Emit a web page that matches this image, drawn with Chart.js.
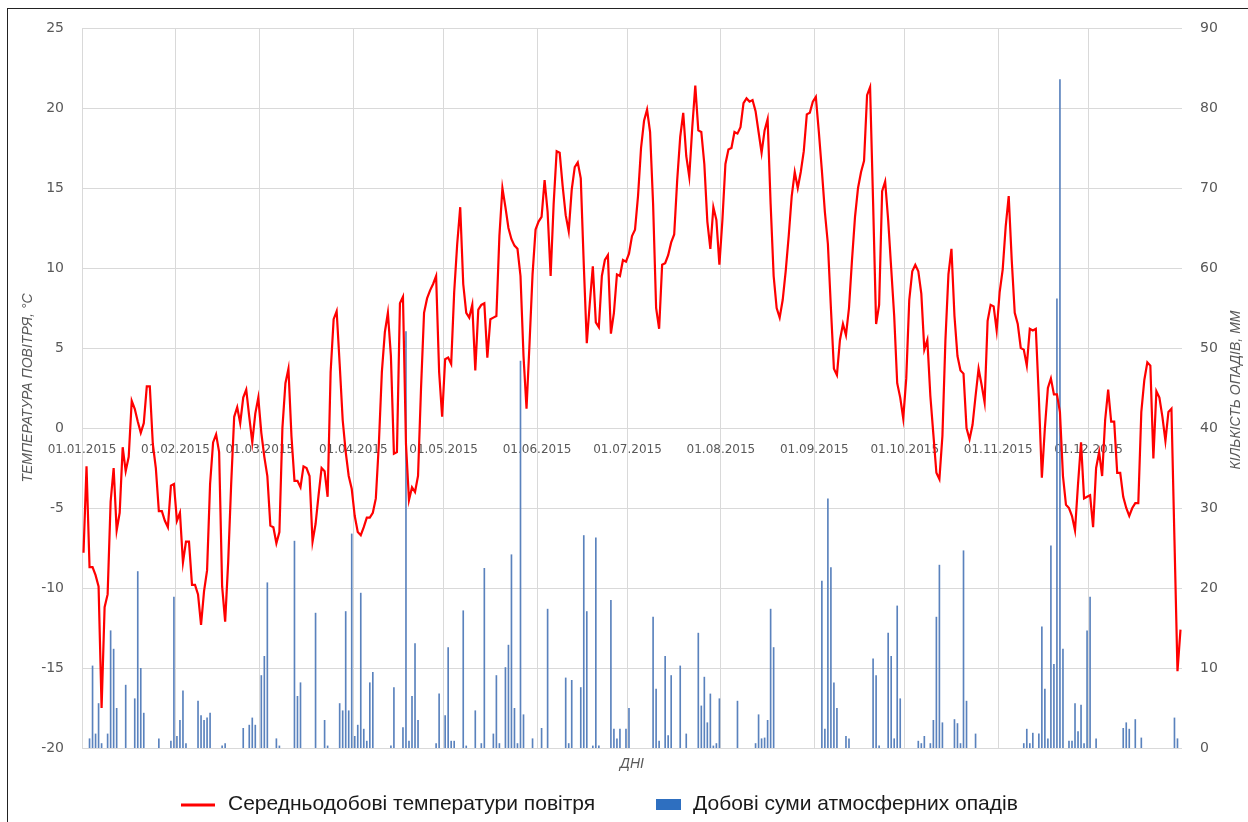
<!DOCTYPE html>
<html>
<head>
<meta charset="utf-8">
<script src="https://cdn.jsdelivr.net/npm/chart.js@4.4.1/dist/chart.umd.min.js"></script>
<style>
  html, body { margin:0; padding:0; background:#fff; }
  #wrap { position:relative; width:1248px; height:822px; overflow:hidden; }
  #frame { position:absolute; left:7px; top:8px; right:-2px; bottom:-2px; border-left:1px solid #222; border-top:1px solid #222; pointer-events:none; }
  canvas { position:absolute; left:0; top:0; }
</style>
</head>
<body>
<div id="wrap"><canvas id="climateChart" width="1248" height="822"></canvas><div id="frame"></div></div>
<script>
// daily mean air temperature, °C (01.01.2015 - 31.12.2015)
const temperature = [
  -7.8, -2.4, -8.7, -8.7, -9.2, -9.9, -17.5, -11.2, -10.4, -4.6,
  -2.5, -6.4, -5.3, -1.2, -2.7, -1.8, 1.7, 1.2, 0.4, -0.3,
  0.3, 2.6, 2.6, -1.0, -2.5, -5.2, -5.2, -5.8, -6.2, -3.6,
  -3.5, -5.8, -5.3, -8.4, -7.1, -7.1, -9.8, -9.8, -10.4, -12.3,
  -10.2, -8.9, -3.5, -0.9, -0.4, -1.5, -9.9, -12.1, -8.4, -3.5,
  0.7, 1.3, 0.3, 1.9, 2.4, 0.7, -0.9, 0.9, 1.9, -0.3,
  -1.8, -3.0, -6.1, -6.2, -7.2, -6.5, 0.0, 2.8, 3.7, -0.5,
  -3.3, -3.3, -3.7, -2.4, -2.5, -3.0, -7.1, -6.0, -4.2, -2.5,
  -2.7, -4.3, 3.5, 6.8, 7.3, 4.0, 0.5, -1.5, -3.0, -3.8,
  -5.5, -6.5, -6.7, -6.2, -5.6, -5.6, -5.3, -4.4, -1.0, 3.5,
  6.0, 7.2, 4.5, -1.6, -1.5, 7.8, 8.2, -1.0, -4.5, -3.7,
  -4.0, -3.0, 2.5, 7.2, 8.1, 8.6, 9.0, 9.5, 3.5, 0.7,
  4.3, 4.4, 4.0, 8.5, 11.5, 13.8, 9.0, 7.2, 6.9, 7.7,
  3.6, 7.4, 7.7, 7.8, 4.4, 6.8, 6.9, 7.0, 12.0, 15.0,
  13.8, 12.5, 11.8, 11.4, 11.2, 9.5, 4.5, 1.2, 5.3, 9.6,
  12.4, 12.9, 13.2, 15.5, 13.5, 9.5, 14.0, 17.3, 17.2, 15.1,
  13.3, 12.3, 14.9, 16.3, 16.6, 15.6, 10.2, 5.3, 7.8, 10.1,
  6.6, 6.3, 9.5, 10.5, 10.8, 5.9, 7.2, 9.6, 9.5, 10.5,
  10.4, 10.9, 12.0, 12.4, 14.5, 17.5, 19.2, 19.9, 18.5, 14.0,
  7.5, 6.2, 10.2, 10.3, 10.8, 11.6, 12.1, 15.5, 18.2, 19.7,
  17.0, 15.7, 18.8, 21.4, 18.6, 18.5, 16.5, 12.9, 11.2, 13.8,
  13.0, 10.2, 13.0, 16.5, 17.4, 17.5, 18.5, 18.4, 18.8, 20.3,
  20.6, 20.4, 20.5, 19.8, 18.5, 17.2, 18.6, 19.3, 14.0, 9.5,
  7.5, 6.9, 8.0, 9.8, 12.0, 14.5, 16.0, 15.0, 16.0, 17.3,
  19.6, 19.7, 20.4, 20.7, 18.5, 16.1, 13.5, 11.5, 7.5, 3.7,
  3.3, 5.5, 6.5, 5.8, 7.5, 10.5, 13.2, 15.0, 16.0, 16.7,
  20.8, 21.3, 14.1, 6.5, 7.7, 14.8, 15.4, 13.0, 10.0, 7.0,
  2.8, 1.9, 0.6, 3.1, 8.0, 9.8, 10.2, 9.8, 8.4, 4.9,
  5.5, 2.0, -0.4, -2.8, -3.2, -0.5, 5.5, 9.6, 11.2, 7.0,
  4.5, 3.6, 3.4, 0.0, -0.7, 0.2, 2.0, 3.7, 2.7, 1.6,
  6.7, 7.7, 7.6, 6.1, 8.5, 9.9, 12.6, 14.5, 10.5, 7.2,
  6.5, 5.0, 4.9, 3.9, 6.2, 6.1, 6.2, 1.9, -3.1, 0.0,
  2.5, 3.1, 2.1, 2.1, 1.0, -3.0, -4.8, -5.0, -5.5, -6.4,
  -3.5, -0.9, -4.4, -4.3, -4.2, -6.2, -2.5, -1.5, -3.0, 0.5,
  2.4, 0.4, 0.4, -2.8, -2.8, -4.3, -5.0, -5.5, -5.0, -4.7,
  -4.7, 1.0, 3.0, 4.1, 3.9, -1.9, 2.3, 1.9, 0.7, -0.8,
  1.0, 1.2, -7.0, -15.2, -12.6
];

// daily precipitation, mm
const precipitation = [
  0, 0, 1.2, 10.3, 1.8, 5.6, 0.6, 0, 1.8, 14.7,
  12.4, 5.0, 0, 0, 7.9, 0, 0, 6.2, 22.1, 10.0,
  4.4, 0, 0, 0, 0, 1.2, 0, 0, 0, 0.9,
  18.9, 1.5, 3.5, 7.2, 0.6, 0, 0, 0, 5.9, 4.1,
  3.5, 3.8, 4.4, 0, 0, 0, 0.3, 0.6, 0, 0,
  0, 0, 0, 2.5, 0, 2.9, 3.8, 2.9, 0, 9.1,
  11.5, 20.7, 0, 0, 1.2, 0.3, 0, 0, 0, 0,
  25.9, 6.5, 8.2, 0, 0, 0, 0, 16.9, 0, 0,
  3.5, 0.3, 0, 0, 0, 5.6, 4.7, 17.1, 4.7, 26.8,
  1.5, 2.9, 19.4, 2.4, 0.9, 8.2, 9.5, 0, 0, 0,
  0, 0, 0.3, 7.6, 0, 0, 2.6, 52.1, 0.9, 6.5,
  13.1, 3.5, 0, 0, 0, 0, 0, 0.6, 6.8, 0,
  4.1, 12.6, 0.9, 0.9, 0, 0, 17.2, 0.3, 0, 0,
  4.7, 0, 0.6, 22.5, 0, 0, 1.8, 9.1, 0.6, 0,
  10.1, 12.9, 24.2, 5.0, 0.6, 48.4, 4.2, 0, 0, 1.2,
  0, 0, 2.5, 0, 17.4, 0, 0, 0, 0, 0,
  8.8, 0.6, 8.5, 0, 0, 7.6, 26.6, 17.1, 0, 0.3,
  26.3, 0.3, 0, 0, 0, 18.5, 2.4, 1.2, 2.4, 0,
  2.4, 5.0, 0, 0, 0, 0, 0, 0, 0, 16.4,
  7.4, 0.9, 0, 11.5, 1.6, 9.1, 0, 0, 10.3, 0,
  1.8, 0, 0, 0, 14.4, 5.3, 8.9, 3.2, 6.8, 0.3,
  0.6, 6.2, 0, 0, 0, 0, 0, 5.9, 0, 0,
  0, 0, 0, 0.6, 4.2, 1.2, 1.3, 3.5, 17.4, 12.6,
  0, 0, 0, 0, 0, 0, 0, 0, 0, 0,
  0, 0, 0, 0, 0, 20.9, 2.4, 31.2, 22.6, 8.2,
  5.0, 0, 0, 1.5, 1.2, 0, 0, 0, 0, 0,
  0, 0, 11.2, 9.1, 0.3, 0, 0, 14.4, 11.5, 1.2,
  17.8, 6.2, 0, 0, 0, 0, 0, 0.9, 0.6, 1.5,
  0, 0.6, 3.5, 16.4, 22.9, 3.2, 0, 0, 0, 3.6,
  3.1, 0.6, 24.7, 5.9, 0, 0, 1.8, 0, 0, 0,
  0, 0, 0, 0, 0, 0, 0, 0, 0, 0,
  0, 0, 0.6, 2.4, 0.6, 1.9, 0, 1.8, 15.2, 7.4,
  1.2, 25.3, 10.5, 56.2, 83.6, 12.4, 0, 0.9, 0.9, 5.6,
  2.1, 5.4, 0.6, 14.7, 18.9, 0, 1.2, 0, 0, 0,
  0, 0, 0, 0, 0, 2.5, 3.2, 2.4, 0, 3.6,
  0, 1.3, 0, 0, 0, 0, 0, 0, 0, 0,
  0, 0, 3.8, 1.2, 0
];

// first day of each month (day index) and its label
const monthStarts = [0, 31, 59, 90, 120, 151, 181, 212, 243, 273, 304, 334];
const monthLabels = ['01.01.2015', '01.02.2015', '01.03.2015', '01.04.2015', '01.05.2015', '01.06.2015',
  '01.07.2015', '01.08.2015', '01.09.2015', '01.10.2015', '01.11.2015', '01.12.2015'];

const days = [];
for (let i = 0; i < temperature.length; i++) {
  const d = new Date(Date.UTC(2015, 0, 1 + i));
  days.push(String(d.getUTCDate()).padStart(2, '0') + '.' + String(d.getUTCMonth() + 1).padStart(2, '0') + '.2015');
}

const gridColor = '#d9d9d9';
const tickColor = '#595959';
const narrow = "'Liberation Sans Narrow', 'Liberation Sans', Arial, sans-serif";

const extraText = {
  id: 'extraText',
  beforeDatasetsDraw(chart) {
    const ctx = chart.ctx;
    const x = chart.scales.x;
    const y = chart.scales.y;
    const band = x.getPixelForValue(1) - x.getPixelForValue(0);
    ctx.save();
    ctx.fillStyle = tickColor;
    ctx.font = "12px 'DejaVu Sans', sans-serif";
    ctx.textAlign = 'center';
    ctx.textBaseline = 'middle';
    monthStarts.forEach((m, i) => {
      ctx.fillText(monthLabels[i], x.getPixelForValue(m) - band / 2, y.getPixelForValue(0) + 22);
    });
    ctx.restore();
  },
  afterDraw(chart) {
    const ctx = chart.ctx;
    const area = chart.chartArea;
    ctx.save();
    // right axis title, read from bottom to top
    ctx.translate(1236, (area.top + area.bottom) / 2 + 2);
    ctx.rotate(-Math.PI / 2);
    ctx.fillStyle = tickColor;
    ctx.font = 'italic 14px ' + narrow;
    ctx.textAlign = 'center';
    ctx.textBaseline = 'middle';
    ctx.fillText('КІЛЬКІСТЬ ОПАДІВ, ММ', 0, 0);
    ctx.restore();

    // legend
    ctx.save();
    ctx.font = '21px ' + narrow;
    ctx.fillStyle = '#1a1a1a';
    ctx.textBaseline = 'middle';
    ctx.strokeStyle = '#ff0000';
    ctx.lineWidth = 3;
    ctx.beginPath();
    ctx.moveTo(181, 805);
    ctx.lineTo(215, 805);
    ctx.stroke();
    ctx.fillText(chart.data.datasets[0].label, 228, 804);
    ctx.fillStyle = '#2e6fc0';
    ctx.fillRect(656, 799, 25, 11);
    ctx.fillStyle = '#1a1a1a';
    ctx.fillText(chart.data.datasets[1].label, 693, 804);
    ctx.restore();
  }
};

new Chart(document.getElementById('climateChart'), {
  data: {
    labels: days,
    datasets: [
      {
        type: 'line',
        label: 'Середньодобові температури повітря',
        data: temperature,
        yAxisID: 'y',
        borderColor: '#ff0000',
        borderWidth: 2.2,
        pointRadius: 0,
        tension: 0
      },
      {
        type: 'bar',
        label: 'Добові суми атмосферних опадів',
        data: precipitation,
        yAxisID: 'y1',
        backgroundColor: '#5a82bd',
        barPercentage: 0.55,
        categoryPercentage: 1
      }
    ]
  },
  options: {
    responsive: false,
    devicePixelRatio: 1,
    animation: false,
    layout: { padding: { left: 14, right: 0, top: 28, bottom: 46 } },
    plugins: {
      legend: { display: false },
      tooltip: { enabled: false }
    },
    scales: {
      x: {
        type: 'category',
        offset: true,
        ticks: { display: false },
        grid: {
          offset: true,
          drawTicks: false,
          color: (c) => (monthStarts.includes(c.index) || c.index >= temperature.length) ? gridColor : 'rgba(0,0,0,0)'
        },
        border: { display: false },
        title: {
          display: true,
          text: 'ДНІ',
          color: tickColor,
          font: { family: narrow, size: 14, style: 'italic' },
          padding: { top: 0, bottom: 3 }
        },
        afterFit: (s) => { s.height = 28; }
      },
      y: {
        position: 'left',
        min: -20,
        max: 25,
        ticks: {
          stepSize: 5,
          color: tickColor,
          padding: 18,
          font: { family: "'DejaVu Sans', sans-serif", size: 14 }
        },
        grid: { color: gridColor, drawTicks: false },
        border: { display: false },
        title: {
          display: true,
          text: 'ТЕМПЕРАТУРА ПОВІТРЯ, °С',
          color: tickColor,
          font: { family: narrow, size: 14, style: 'italic' },
          padding: { top: 6, bottom: 0 }
        },
        afterFit: (s) => { s.width = 68; }
      },
      y1: {
        position: 'right',
        min: 0,
        max: 90,
        ticks: {
          stepSize: 10,
          color: tickColor,
          padding: 18,
          font: { family: "'DejaVu Sans', sans-serif", size: 14 }
        },
        grid: { display: false, drawTicks: false },
        border: { display: false },
        afterFit: (s) => { s.width = 66; }
      }
    }
  },
  plugins: [extraText]
});
</script>
</body>
</html>
